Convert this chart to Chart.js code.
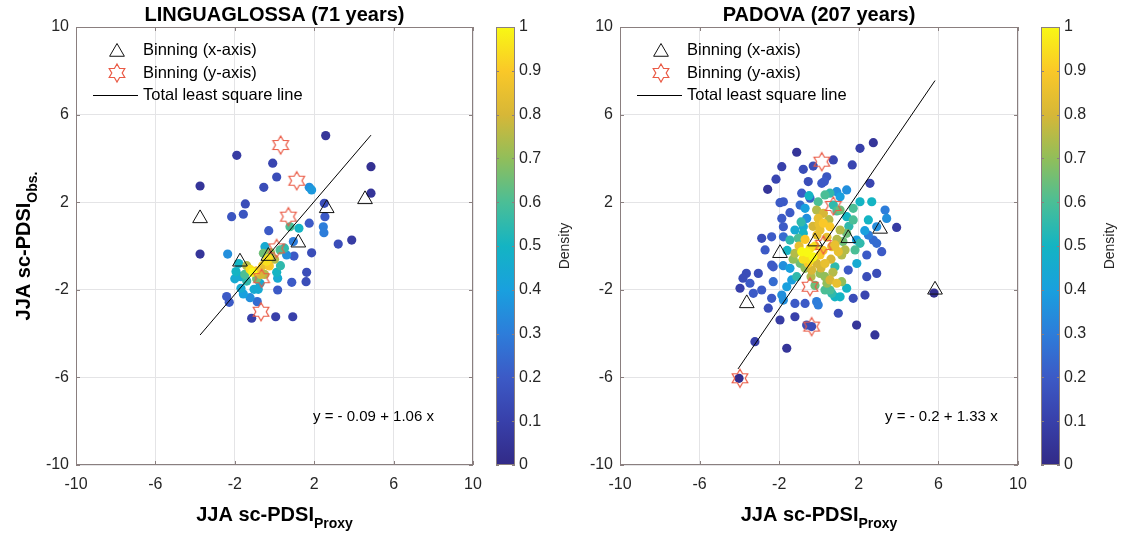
<!DOCTYPE html>
<html><head><meta charset="utf-8">
<script src="https://cdn.jsdelivr.net/npm/chart.js@4.4.1/dist/chart.umd.min.js"></script>
<style>
html,body{margin:0;padding:0;background:#fff;}
#wrap{position:relative;width:1122px;height:536px;overflow:hidden;background:#fff;}
canvas{position:absolute;top:0;}
</style></head><body>
<div id="wrap">
<canvas id="c1" width="580" height="536" style="left:0px"></canvas>
<canvas id="c2" width="542" height="536" style="left:580px"></canvas>
</div>
<script>
// ---------- text / ticks ----------
const linTitle = 'LINGUAGLOSSA (71 years)';
const padTitle = 'PADOVA (207 years)';
const axisTicks = [-10, -6, -2, 2, 6, 10];
const densityTicks = [0, 0.1, 0.2, 0.3, 0.4, 0.5, 0.6, 0.7, 0.8, 0.9, 1];
const legendLabels = ['Binning (x-axis)', 'Binning (y-axis)', 'Total least square line'];
const xTitle = ['JJA sc-PDSI', 'Proxy'];
const yTitle = ['JJA sc-PDSI', 'Obs.'];

// ---------- LINGUAGLOSSA ----------
const linX = [2.58,-1.90,4.86,-0.09,0.11,-3.75,-0.54,1.75,1.87,4.86,2.51,-1.47,-2.16,-1.57,2.54,-0.29,1.75,2.46,2.49,0.78,
  1.23,3.89,3.21,-3.75,-2.36,-1.94,-1.69,-1.23,-0.90,-0.48,-0.56,-0.31,-0.26,0.28,0.61,0.95,0.98,1.87,1.62,1.59,
  0.87,0.11,0.16,-0.73,-1.03,-0.82,-1.69,-1.57,-1.23,-0.87,-2.41,-2.28,0.16,-1.15,0.06,0.92,
  -1.10,-0.40,-1.40,-0.60,-0.20,0.00,-1.80,-0.90,-0.70,0.30,-1.40,-0.50,-1.50,-2.00,0.50];
const linY = [5.04,4.14,3.62,3.78,3.15,2.74,2.68,2.68,2.56,2.41,1.95,1.92,1.34,1.45,1.34,0.70,1.04,0.88,0.61,0.88,
  0.81,0.27,0.09,-0.37,-0.37,-1.17,-1.40,-1.07,-1.13,-0.03,-0.33,-0.56,-0.91,-0.18,-0.41,0.20,-0.46,-0.31,-1.20,-1.63,
  -1.66,-1.20,-1.47,-1.70,-1.98,-1.98,-1.93,-2.19,-2.36,-2.54,-2.31,-2.57,-2.01,-3.30,-3.23,-3.23,
  -1.20,-0.70,-0.90,-0.90,-0.30,-0.60,-0.80,-1.50,-1.30,-0.90,-1.60,-1.30,-1.30,-1.50,-0.10];
const linD = [0.05,0.08,0.03,0.12,0.15,0.05,0.15,0.35,0.38,0.05,0.15,0.15,0.18,0.18,0.2,0.2,0.2,0.3,0.3,0.6,
  0.5,0.08,0.15,0.05,0.35,0.5,0.45,0.95,0.9,0.45,0.65,0.95,0.9,0.6,0.35,0.3,0.2,0.15,0.15,0.15,
  0.2,0.5,0.45,0.45,0.45,0.45,0.45,0.4,0.35,0.25,0.2,0.2,0.2,0.1,0.1,0.1,
  1.0,0.95,0.75,0.85,0.7,0.75,0.5,0.65,0.8,0.55,0.55,0.75,0.6,0.45,0.55];
const linBinXx = [-3.75,-1.74,-0.31,1.20,2.63,4.56];
const linBinXy = [1.26,-0.72,-0.46,0.15,1.72,2.13];
const linBinYx = [0.31,1.12,0.70,0.11,-0.65,-0.68];
const linBinYy = [4.61,2.98,1.34,-0.11,-1.47,-3.00];
const linFit = [-0.09, 1.06];
const linFitRange = [-3.75, 4.86];
const linEquation = 'y = - 0.09 + 1.06 x';
const linEqPos = [1.94, -7.8];

// ---------- PADOVA ----------
const padX = [2.73,2.06,-1.12,0.72,-1.87,-0.79,-0.29,1.67,-2.16,-0.54,0.39,0.27,0.14,2.56,-2.58,-0.87,-0.45,0.89,1.39,0.30,
  0.55,1.06,-1.79,-1.96,-0.95,-0.70,-0.04,-0.12,0.22,0.72,1.06,1.39,1.72,2.06,2.65,3.32,3.40,3.90,2.90,1.72,
  2.48,-1.46,-1.87,-0.62,-0.04,0.22,-1.79,-1.21,-0.79,-0.79,0.05,0.55,1.06,1.39,-2.88,-2.38,-1.79,-2.71,-1.46,-1.04,
  -0.87,-1.21,-0.45,-0.45,-0.54,0.05,0.64,0.80,0.97,1.14,1.31,1.81,2.06,1.89,2.48,2.73,2.90,3.15,2.40,-2.38,
  -2.30,-1.46,-0.95,-0.70,-0.37,-0.12,0.05,0.30,0.80,0.55,0.89,1.14,1.39,1.47,2.40,2.90,-3.65,-3.82,-3.97,-3.05,
  -3.47,-2.88,-3.30,-2.30,-1.37,-1.62,-1.12,-1.87,-1.79,-2.38,-2.55,-1.21,-0.70,-0.12,-0.04,0.30,0.55,0.64,0.80,1.06,
  1.72,2.31,0.97,-1.96,-1.21,-0.62,-0.37,1.89,2.81,-3.22,-1.62,-4.02,5.78,
  -0.6,-0.2,-0.7,-0.3,0.2,-1.0,0.4,-0.1,0.3,-0.8,0.6,0.1,-0.4,0.0,0.5,-0.3,0.9,-1.3,0.7,1.2,
  -0.2,0.4,-0.9,1.5,-1.6,0.9,-0.5,1.9,-1.8,2.3];
const padY = [4.72,4.46,4.28,3.93,3.62,3.50,3.65,3.70,3.05,2.94,3.16,2.94,2.86,2.86,2.59,2.41,2.18,2.48,2.56,2.33,
  2.41,2.25,2.02,1.98,1.87,1.72,2.02,1.64,1.49,1.87,1.64,1.34,1.72,2.02,2.02,1.64,1.26,0.85,0.88,1.19,
  1.19,1.52,1.26,1.26,1.26,1.04,0.88,0.73,0.88,0.58,0.73,0.88,0.73,0.58,0.35,0.42,0.42,-0.18,0.27,0.35,
  -0.26,-0.33,-0.11,-0.64,-0.79,-0.41,-0.03,0.05,-0.26,-0.41,-0.18,-0.18,0.12,0.27,0.50,0.27,0.12,-0.26,-0.41,-0.87,
  -0.95,-1.02,-0.79,-1.02,-1.10,-0.79,-1.25,-1.40,-0.95,-1.55,-1.70,-1.63,-1.93,-1.10,-1.40,-1.25,-1.25,-1.47,-1.93,-1.25,
  -1.70,-2.01,-2.16,-1.63,-1.55,-1.86,-1.40,-2.24,-2.47,-2.39,-2.84,-2.62,-2.62,-2.54,-2.69,-2.01,-2.01,-2.16,-2.32,-2.32,
  -2.39,-2.24,-3.07,-3.38,-3.23,-3.61,-3.68,-3.61,-4.06,-4.37,-4.67,-6.04,-2.15,
  -0.3,0.0,0.3,-0.5,-0.2,0.0,0.4,0.5,-0.8,-0.6,-0.6,-1.0,-1.4,1.0,1.2,0.9,0.3,-0.6,-1.2,0.2,
  -1.8,-1.7,1.1,0.9,-0.2,1.6,2.3,-0.8,-0.9,0.7];
const padD = [0.05,0.1,0.05,0.12,0.1,0.15,0.15,0.12,0.12,0.15,0.18,0.2,0.2,0.12,0.05,0.2,0.22,0.35,0.35,0.6,
  0.55,0.4,0.2,0.2,0.25,0.4,0.6,0.75,0.8,0.55,0.65,0.5,0.6,0.5,0.5,0.3,0.35,0.08,0.35,0.6,
  0.5,0.2,0.2,0.35,0.85,0.9,0.2,0.45,0.45,0.5,0.85,0.9,0.75,0.65,0.15,0.2,0.25,0.2,0.55,0.6,
  1.0,0.75,0.95,0.95,0.9,0.9,0.85,0.85,0.85,0.75,0.75,0.6,0.55,0.4,0.3,0.25,0.25,0.2,0.2,0.2,
  0.2,0.4,0.65,0.7,0.8,0.8,0.7,0.7,0.55,0.8,0.85,0.7,0.5,0.2,0.15,0.15,0.15,0.15,0.1,0.15,
  0.2,0.2,0.2,0.25,0.4,0.4,0.55,0.35,0.35,0.2,0.15,0.2,0.2,0.3,0.3,0.6,0.6,0.55,0.5,0.5,
  0.15,0.12,0.15,0.08,0.1,0.15,0.15,0.05,0.05,0.1,0.05,0.02,0.02,
  1.0,0.95,0.9,1.0,0.9,0.85,0.85,0.85,0.85,0.95,0.8,0.8,0.75,0.85,0.75,0.8,0.75,0.7,0.75,0.65,
  0.65,0.7,0.55,0.55,0.5,0.6,0.5,0.45,0.35,0.4];
const padBinXx = [-3.63,-1.96,-0.20,1.47,3.07,5.83];
const padBinXy = [-2.62,-0.33,0.20,0.35,0.78,-2.00];
const padBinYx = [0.14,0.72,0.22,-0.45,-0.37,-3.97];
const padBinYy = [3.85,1.83,0.05,-1.86,-3.68,-6.04];
const padFit = [-0.2, 1.33];
const padFitRange = [-4.07, 5.83];
const padEquation = 'y = - 0.2 + 1.33 x';
const padEqPos = [3.32, -7.8];

// ---------- styles ----------
const FONT = "'Liberation Sans', Arial, Helvetica, sans-serif";
const FRAME = '#8a7f7f';
const GRID = '#e4e4e6';
const TXT = '#262626';
const STAR = '#ea5a45';
const cmapStops = [[0,[50,42,135]],[0.1,[56,64,170]],[0.2,[60,90,198]],[0.3,[45,125,218]],[0.4,[25,160,222]],
  [0.5,[20,180,195]],[0.6,[75,190,150]],[0.7,[145,190,90]],[0.8,[215,183,55]],[0.9,[250,200,40]],[1,[248,248,20]]];
function cmap(v){
  v = Math.max(0, Math.min(1, v));
  for (let i = 1; i < cmapStops.length; i++) {
    const [t1,c1] = cmapStops[i], [t0,c0] = cmapStops[i-1];
    if (v <= t1) { const f = (v - t0) / (t1 - t0);
      return 'rgb(' + c0.map((c,k)=>Math.round(c + (c1[k]-c)*f)).join(',') + ')'; }
  }
  return 'rgb(248,248,20)';
}
function makeHexagram(R, color, lw){
  const s = 2*Math.ceil(R+2); const c = document.createElement('canvas'); c.width = s; c.height = s;
  const g = c.getContext('2d'); const cx = s/2, cy = s/2, r = R/Math.sqrt(3);
  g.beginPath();
  for (let i = 0; i < 12; i++) { const ang = -Math.PI/2 + i*Math.PI/6; const rr = i%2===0 ? R : r;
    const px = cx + rr*Math.cos(ang), py = cy + rr*Math.sin(ang); if (i) g.lineTo(px,py); else g.moveTo(px,py); }
  g.closePath(); g.strokeStyle = color; g.lineWidth = lw; g.stroke(); return c;
}
const hexImg = makeHexagram(9, STAR, 1.2);
function triPath(ctx, x, y, R){
  ctx.beginPath();
  for (let i = 0; i < 3; i++) { const ang = -Math.PI/2 + i*2*Math.PI/3; const px = x + R*Math.cos(ang), py = y + R*Math.sin(ang);
    if (i) ctx.lineTo(px,py); else ctx.moveTo(px,py); }
  ctx.closePath();
}

const decor = {
  id: 'decor',
  afterDraw(chart, args, o){
    const ctx = chart.ctx, a = chart.chartArea, xs = chart.scales.x, ys = chart.scales.y, cb = chart.scales.cb;
    ctx.save();
    // frame & inward ticks
    ctx.strokeStyle = FRAME; ctx.lineWidth = 1;
    ctx.beginPath();
    xs.ticks.forEach(t=>{ const p = Math.round(xs.getPixelForValue(t.value)) + 0.5;
      ctx.moveTo(p, a.bottom); ctx.lineTo(p, a.bottom - 4); ctx.moveTo(p, a.top); ctx.lineTo(p, a.top + 4); });
    ys.ticks.forEach(t=>{ const p = Math.round(ys.getPixelForValue(t.value)) + 0.5;
      ctx.moveTo(a.left, p); ctx.lineTo(a.left + 4, p); ctx.moveTo(a.right, p); ctx.lineTo(a.right - 4, p); });
    ctx.stroke();
    ctx.strokeRect(Math.round(a.left)+0.5, Math.round(a.top)+0.5, Math.round(a.right-a.left)-1, Math.round(a.bottom-a.top)-1);
    // title
    ctx.fillStyle = '#000'; ctx.font = 'bold 20px ' + FONT; ctx.textAlign = 'center'; ctx.textBaseline = 'middle';
    ctx.fillText(o.title, (a.left + a.right)/2, 15);
    // colorbar
    const bx = Math.round(a.right) + 23, bw = 19;
    const yT = cb.getPixelForValue(1), yB = cb.getPixelForValue(0);
    const grad = ctx.createLinearGradient(0, yB, 0, yT);
    cmapStops.forEach(([t,c])=>grad.addColorStop(t, 'rgb(' + c.join(',') + ')'));
    ctx.fillStyle = grad; ctx.fillRect(bx, yT, bw, yB - yT);
    ctx.strokeRect(bx + 0.5, Math.round(yT) + 0.5, bw - 1, Math.round(yB - yT) - 1);
    ctx.beginPath();
    cb.ticks.forEach(t=>{ const p = Math.round(cb.getPixelForValue(t.value)) + 0.5;
      ctx.moveTo(bx + bw, p); ctx.lineTo(bx + bw - 3, p); ctx.moveTo(bx, p); ctx.lineTo(bx + 3, p); });
    ctx.stroke();
    ctx.save();
    ctx.translate(Math.round(a.right) + 92, (yT + yB)/2); ctx.rotate(-Math.PI/2);
    ctx.fillStyle = TXT; ctx.font = '14px ' + FONT; ctx.textAlign = 'center'; ctx.textBaseline = 'middle';
    ctx.fillText('Density', 0, 0);
    ctx.restore();
    // legend
    const L = a.left, T = a.top;
    ctx.strokeStyle = '#111'; ctx.lineWidth = 1;
    triPath(ctx, L + 41, T + 25, 8.5); ctx.stroke();
    ctx.drawImage(hexImg, L + 41 - hexImg.width/2, T + 46 - hexImg.height/2);
    ctx.beginPath(); ctx.strokeStyle = '#000'; ctx.moveTo(L + 17, T + 68.5); ctx.lineTo(L + 62, T + 68.5); ctx.stroke();
    ctx.fillStyle = '#000'; ctx.font = '16.5px ' + FONT; ctx.textAlign = 'left'; ctx.textBaseline = 'middle';
    ctx.fillText(legendLabels[0], L + 67, T + 23);
    ctx.fillText(legendLabels[1], L + 67, T + 46);
    ctx.fillText(legendLabels[2], L + 67, T + 68);
    // equation
    ctx.font = '15px ' + FONT;
    ctx.fillText(o.eq, xs.getPixelForValue(o.eqPos[0]), ys.getPixelForValue(o.eqPos[1]));
    // x title
    const cx = (a.left + a.right)/2;
    ctx.textBaseline = 'alphabetic';
    ctx.font = 'bold 20px ' + FONT; const w1 = ctx.measureText(xTitle[0]).width;
    ctx.font = 'bold 14px ' + FONT; const w2 = ctx.measureText(xTitle[1]).width;
    const sx = cx - (w1 + w2)/2;
    ctx.font = 'bold 20px ' + FONT; ctx.fillText(xTitle[0], sx, 521);
    ctx.font = 'bold 14px ' + FONT; ctx.fillText(xTitle[1], sx + w1, 528);
    // y title
    if (o.yTitle) {
      const cy = (a.top + a.bottom)/2;
      ctx.save(); ctx.translate(30, cy); ctx.rotate(-Math.PI/2);
      ctx.font = 'bold 20px ' + FONT; const v1 = ctx.measureText(yTitle[0]).width;
      ctx.font = 'bold 14px ' + FONT; const v2 = ctx.measureText(yTitle[1]).width;
      const sy = -(v1 + v2)/2;
      ctx.font = 'bold 20px ' + FONT; ctx.fillText(yTitle[0], sy, 0);
      ctx.font = 'bold 14px ' + FONT; ctx.fillText(yTitle[1], sy + v1, 7);
      ctx.restore();
    }
    ctx.restore();
  }
};

Chart.defaults.font.family = FONT;

function buildChart(id, c){
  const pts = c.x.map((x,i)=>({x:x, y:c.y[i], d:c.d[i]})).sort((p,q)=>p.d - q.d);
  const fitData = c.fitRange.map(x=>({x:x, y:c.fit[0] + c.fit[1]*x}));
  const tickOpts = {color: TXT, font:{size:16}, callback: v=>String(v)};
  new Chart(document.getElementById(id), {
    type: 'scatter',
    data: { datasets: [
      {label: legendLabels[2], data: fitData, showLine: true, borderColor: '#000', borderWidth: 1, pointRadius: 0},
      {label: legendLabels[1], data: c.byx.map((x,i)=>({x:x, y:c.byy[i]})), pointStyle: hexImg, pointRadius: 9},
      {label: legendLabels[0], data: c.bxx.map((x,i)=>({x:x, y:c.bxy[i]})), pointStyle: 'triangle', pointRadius: 8.5,
        backgroundColor: 'rgba(0,0,0,0)', borderColor: '#111', borderWidth: 1},
      {label: 'Density', data: pts, pointRadius: 4.6, pointBackgroundColor: pts.map(p=>cmap(p.d)),
        pointBorderColor: pts.map(p=>cmap(p.d)), pointBorderWidth: 0, borderWidth: 0}
    ]},
    options: {
      responsive: false, animation: false, devicePixelRatio: 1,
      layout: {padding: {top: 27, left: 0, right: 0, bottom: 0}, autoPadding: false},
      plugins: {
        legend: {display: false}, tooltip: {enabled: false}, title: {display: false},
        decor: {title: c.title, eq: c.eq, eqPos: c.eqPos, yTitle: c.yTitle}
      },
      scales: {
        x: {type: 'linear', position: 'bottom', min: -10, max: 10,
          afterBuildTicks: s=>{ s.ticks = axisTicks.map(v=>({value: v})); },
          ticks: Object.assign({padding: 10, maxRotation: 0}, tickOpts),
          grid: {color: GRID, drawTicks: false}, border: {display: false},
          afterFit: s=>{ s.height = 71; }},
        y: {type: 'linear', position: 'left', min: -10, max: 10,
          afterBuildTicks: s=>{ s.ticks = axisTicks.map(v=>({value: v})); },
          ticks: Object.assign({padding: 7}, tickOpts),
          grid: {color: GRID, drawTicks: false}, border: {display: false},
          afterFit: s=>{ s.width = c.yW; }},
        cb: {type: 'linear', position: 'right', min: 0, max: 1,
          afterBuildTicks: s=>{ s.ticks = densityTicks.map(v=>({value: v})); },
          ticks: Object.assign({padding: 4}, tickOpts),
          grid: {display: true, color: 'rgba(0,0,0,0)', drawOnChartArea: false, drawTicks: true, tickLength: 42}, border: {display: false},
          afterFit: s=>{ s.width = c.cbW; }}
      }
    },
    plugins: [decor]
  });
}

buildChart('c1', {title: linTitle, x: linX, y: linY, d: linD, bxx: linBinXx, bxy: linBinXy, byx: linBinYx, byy: linBinYy,
  fit: linFit, fitRange: linFitRange, eq: linEquation, eqPos: linEqPos, yTitle: true, yW: 76, cbW: 107});
buildChart('c2', {title: padTitle, x: padX, y: padY, d: padD, bxx: padBinXx, bxy: padBinXy, byx: padBinYx, byy: padBinYy,
  fit: padFit, fitRange: padFitRange, eq: padEquation, eqPos: padEqPos, yTitle: false, yW: 40, cbW: 104});
</script>
</body></html>
